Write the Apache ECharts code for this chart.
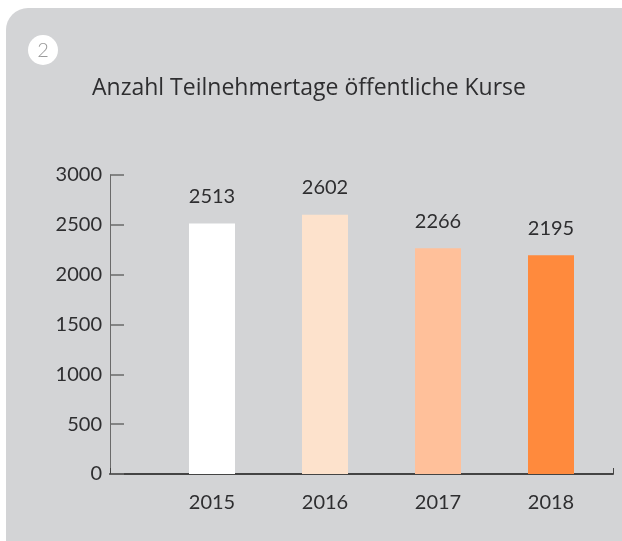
<!DOCTYPE html>
<html>
<head>
<meta charset="utf-8">
<script src="https://cdn.jsdelivr.net/npm/echarts@6/dist/echarts.min.js"></script>
<style>
  html, body { margin: 0; padding: 0; background: #fff; }
  #chart { width: 622px; height: 541px; }
</style>
</head>
<body>
<div id="chart"></div>
<script>
// ── Data ──────────────────────────────────────────────────────────────────────
const years  = ['2015', '2016', '2017', '2018'];
const values = [2513, 2602, 2266, 2195];
const colors = ['#ffffff', '#fde2cc', '#ffc09a', '#ff8a3d'];
const title  = 'Anzahl Teilnehmertage öffentliche Kurse';

const FONT  = 'Lato, "Noto Sans", sans-serif';
const TFONT = '"Open Sans", "Noto Sans", sans-serif';
const TEXT  = '#2e2e30';

const chart = echarts.init(document.getElementById('chart'), null, { renderer: 'canvas' });

chart.setOption({
  animation: false,
  textStyle: { fontFamily: FONT },
  graphic: [
    // grey card behind everything
    { type: 'rect', z: -10, shape: { x: 6, y: 8, width: 640, height: 560, r: 22 },
      style: { fill: '#d3d4d6' } },
    // numbered badge
    { type: 'circle', shape: { cx: 43, cy: 50, r: 15 }, style: { fill: '#ffffff' } },
    { type: 'text', x: 43, y: 51,
      style: { text: '2', fill: '#9a9a9a', font: '300 20px ' + FONT, align: 'center', verticalAlign: 'middle' } },
    { type: 'text', x: 309, y: 88,
      style: { text: title, fill: TEXT, font: '23px ' + TFONT, align: 'center', verticalAlign: 'middle' } }
  ],
  // grid 0: axis frame (y axis + long baseline), grid 1: bars + year labels
  grid: [
    { left: 110, right: 9, top: 175, bottom: 67 },
    { left: 155.5, width: 452, top: 175, bottom: 67 }
  ],
  xAxis: [
    { type: 'value', gridIndex: 0, min: 0, max: 1, interval: 1,
      axisLine: { show: true, onZero: false, lineStyle: { color: '#444', width: 2 } },
      axisTick: { show: true, inside: true, length: 6, lineStyle: { color: '#444', width: 1 } },
      axisLabel: { show: false }, splitLine: { show: false } },
    { type: 'category', gridIndex: 1, data: years,
      axisLine: { show: false }, axisTick: { show: false },
      axisLabel: { color: TEXT, fontSize: 20, margin: 19 } }
  ],
  yAxis: [
    { type: 'value', gridIndex: 0, min: 0, max: 3000, interval: 500,
      axisLine: { show: true, lineStyle: { color: '#6a6a6a', width: 1 } },
      axisTick: { show: true, inside: true, length: 14, lineStyle: { color: '#6a6a6a', width: 1.5 } },
      axisLabel: { color: TEXT, fontSize: 20, margin: 8, formatter: v => String(v) },
      splitLine: { show: false } },
    { type: 'value', gridIndex: 1, min: 0, max: 3000, show: false }
  ],
  series: [{
    type: 'bar',
    xAxisIndex: 1,
    yAxisIndex: 1,
    barWidth: 46,
    z: 1,
    data: values.map((v, i) => ({ value: v, itemStyle: { color: colors[i] } })),
    label: { show: true, position: 'top', distance: 17, color: TEXT, fontSize: 20 }
  }]
});
</script>
</body>
</html>
